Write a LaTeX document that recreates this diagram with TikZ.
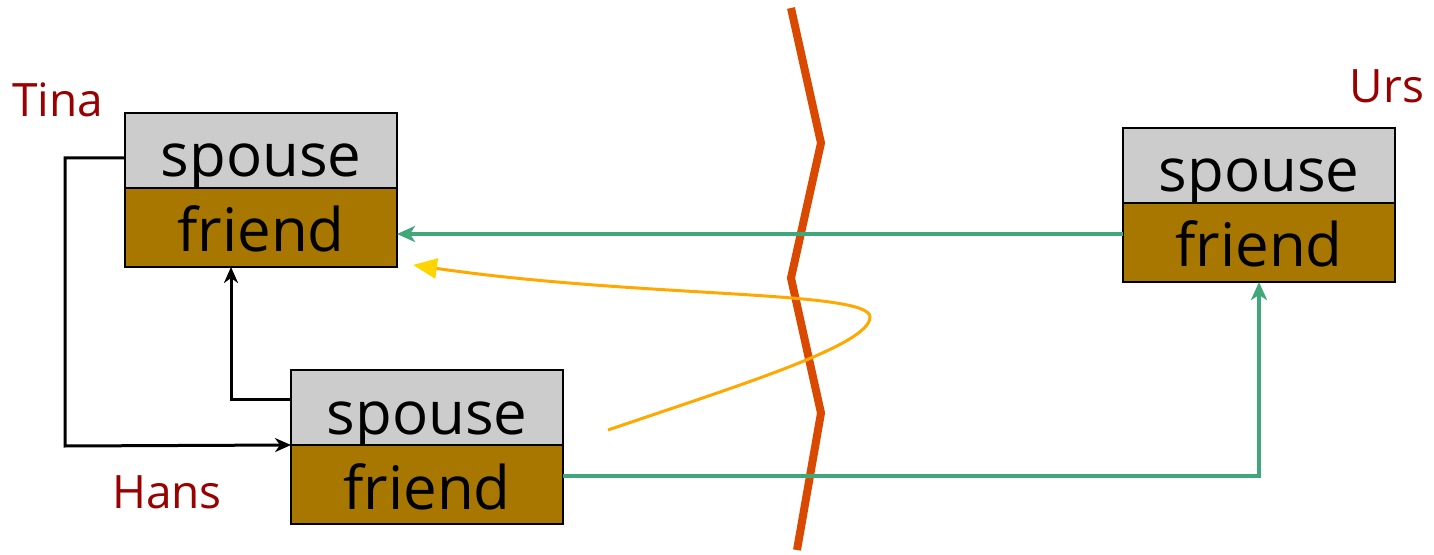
\documentclass[tikz,border=0pt]{standalone}
\usepackage{fontspec}
\setmainfont{Open Sans}
\usetikzlibrary{arrows.meta}
\definecolor{boxgray}{HTML}{CCCCCC}
\definecolor{boxbrown}{HTML}{A87700}
\definecolor{lblred}{HTML}{990000}
\definecolor{linkgreen}{HTML}{3FA77A}
\definecolor{cutred}{HTML}{D94A00}
\definecolor{curveorange}{HTML}{FFA800}
\definecolor{tipyellow}{HTML}{FFD500}
\tikzset{
  field/.style={draw=black, line width=1pt, minimum width=136pt, inner sep=0pt, outer sep=0pt, font=\fontsize{30}{32}\selectfont},
  sfield/.style={field, fill=boxgray, text height=32pt, text depth=5.5pt},
  ffield/.style={field, fill=boxbrown, text height=32pt, text depth=7.5pt},
  objlabel/.style={text=lblred, font=\fontsize{23}{25}\selectfont, inner sep=0pt},
  blacklink/.style={line width=1.5pt, -{Stealth[length=8pt,width=7pt,inset=2.5pt]}},
  greenlink/.style={draw=linkgreen, line width=1.8pt, -{Stealth[length=9pt,width=8pt,inset=2.5pt]}},
  cutline/.style={draw=cutred, line width=4pt},
}
\begin{document}
\begin{tikzpicture}[x=0.5pt,y=-0.5pt]
\useasboundingbox (0,0) rectangle (1434,555);
% Tina
\node[sfield, anchor=north west] (tinaS) at (125,113) {spouse};
\node[ffield, anchor=north west] (tinaF) at (tinaS.south west) {friend};
% Hans
\node[sfield, anchor=north west] (hansS) at (291,370) {spouse};
\node[ffield, anchor=north west] (hansF) at (hansS.south west) {friend};
% Urs
\node[sfield, anchor=north west] (ursS) at (1123,128) {spouse};
\node[ffield, anchor=north west] (ursF) at (ursS.south west) {friend};
% labels
\node[objlabel] (tinaL) at (58,100) {Tina};
\node[objlabel] (hansL) at (167,492) {Hans};
\node[objlabel] (ursL) at (1387,86) {Urs};
% cut line
\draw[cutline] (791,8) -- (821,143) -- (791,278) -- (821,413) -- (797,550);
% black links
\coordinate (c1) at (65,158);
\coordinate (c2) at (65,446);
\draw[blacklink] (tinaS.west |- c1) -- (c1) -- (c2) -- (hansS.south west);
\coordinate (c3) at (231,400);
\draw[blacklink] (hansS.west |- c3) -- (c3) -- (c3 |- tinaF.south);
% green links
\draw[greenlink] (ursF.west |- 0,234) -- (tinaF.east |- 0,234);
\coordinate (g1) at (1259,476);
\draw[greenlink] (hansF.east |- g1) -- (g1) -- (g1 |- ursF.south);
% orange curve
\coordinate (o1) at (608,430);
\coordinate (o2) at (870,317);
\coordinate (o3) at (413,265);
\draw[draw=curveorange, line width=1.5pt, -{Triangle[length=12pt,width=10pt,color=tipyellow]}]
  (o1) .. controls (740,385) and (870,345) .. (o2)
  .. controls (870,290) and (640,298) .. (o3);
\end{tikzpicture}
\end{document}
